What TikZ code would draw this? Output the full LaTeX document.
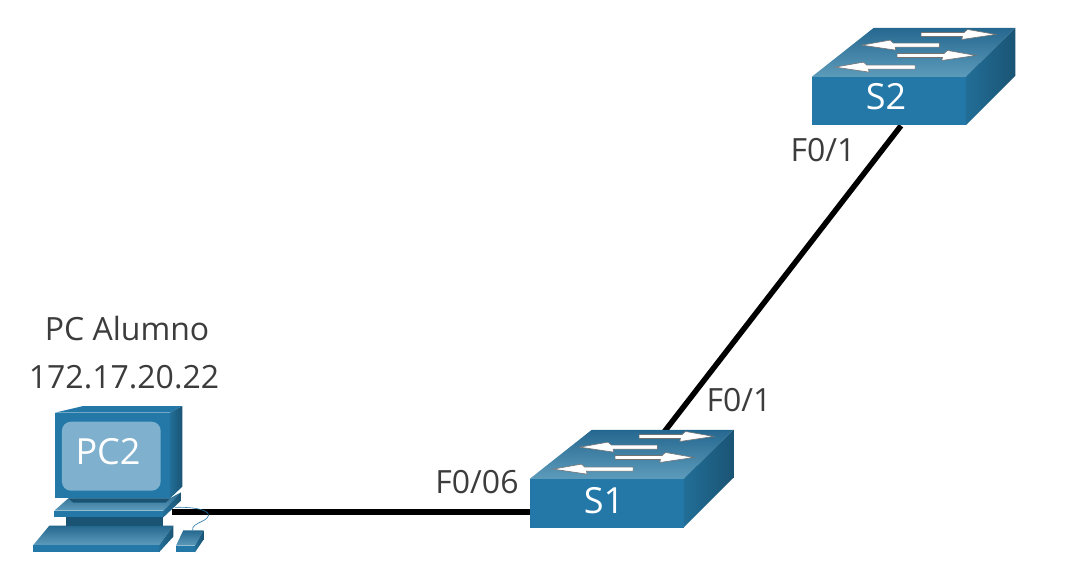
\documentclass[tikz,border=0pt]{standalone}
\usepackage{fontspec}
\setmainfont{Open Sans}
\usetikzlibrary{backgrounds}
\definecolor{ciscoblue}{HTML}{2378A8}
\definecolor{ciscotop}{HTML}{25688F}
\definecolor{ciscopale}{HTML}{5D9BBB}
\definecolor{ciscoside}{HTML}{226E97}
\definecolor{ciscodark}{HTML}{1A5474}
\definecolor{screenblue}{HTML}{7FB0CD}
\definecolor{labelgrey}{HTML}{3C3C3C}
\begin{document}
\begin{tikzpicture}
        [x=1pt,y=-1pt,
        switchbox/.style={fill=ciscoblue,minimum width=154pt,minimum height=48.5pt,inner sep=0pt},
        screenbox/.style={fill=screenblue,rounded corners=9pt,minimum width=98.7pt,minimum height=69pt,inner sep=0pt},
        devname/.style={text=white,inner sep=0pt,font=\fontsize{36}{36}\selectfont},
        portlabel/.style={text=labelgrey,inner sep=0pt,font=\fontsize{32}{32}\selectfont},
        link/.style={line width=5.5pt,black},
        topface/.style={top color=ciscotop,bottom color=ciscopale},
        sideface/.style={left color=ciscoside,right color=ciscodark},
        frontface/.style={fill=ciscoblue},
        darkface/.style={fill=ciscodark},
        flowarrow/.style={fill=white,draw=black!55,line width=0.6pt}]
        \useasboundingbox (0,0) rectangle (1079,572);
        \node (s1) at (607,503.25) [switchbox] {};
        \node (s2) at (889,101.25) [switchbox] {};
        \node (s1name) at (604,501) [devname] {S1};
        \node (s2name) at (886,97) [devname] {S2};
        \coordinate (pcport) at (172,512);
        \begin{pgfonlayer}{background}
            \draw[link] (pcport) -- (pcport -| s1.west);
            \draw[link] ([xshift=2pt]s1.center) -- ([xshift=12pt]s2.south);
        \end{pgfonlayer}
        \foreach \sw in {s1,s2} {
            \begin{scope}[shift={(\sw.north west)}]
                \path[topface] (0,0) -- (62,-49) -- (203.5,-49) -- (154,0) -- cycle;
                \path[sideface] (154,0) -- (203.5,-49) -- (203.5,-1) -- (154,48.5) -- cycle;
            \end{scope}
            \begin{scope}[shift={(\sw.north west)},x=0.3333pt,y=-0.3333pt]
                \foreach \tipx/\tailx/\ay/\dir in {552/328/-127/1,150/383/-95/-1,492/256/-64/1,70/310/-29/-1}
                    \draw[flowarrow] (\tailx,\ay-6) -- ({\tipx-\dir*95},\ay-6) -- ({\tipx-\dir*85},\ay-15) -- (\tipx,\ay) -- ({\tipx-\dir*102},\ay+15) -- ({\tipx-\dir*100},\ay+6) -- (\tailx,\ay+6) -- cycle;
            \end{scope}
        }
        \begin{scope}[shift={(0,390)},x=0.3333pt,y=-0.3333pt]
            \path[topface] (100,465) -- (148,407) -- (520,407) -- (478,465) -- cycle;
            \path[frontface] (100,465) rectangle (478,486);
            \path[sideface] (478,465) -- (520,407) -- (520,440) -- (478,486) -- cycle;
            \path[darkface] (197,382) rectangle (490,407);
            \path[topface] (163,362) -- (205,325) -- (510,325) -- (543,307) -- (490,362) -- cycle;
            \path[frontface] (163,362) rectangle (490,382);
            \path[sideface] (490,362) -- (543,307) -- (543,332) -- (490,382) -- cycle;
            \path[darkface] (205,325) -- (510,325) -- (497,338) -- (220,338) -- cycle;
            \path[frontface] (165,68) -- (250,48) -- (547,48) -- (510,68) -- cycle;
            \path[frontface] (165,68) rectangle (510,325);
            \path[sideface] (510,68) -- (547,48) -- (547,290) -- (510,325) -- cycle;
            \path[topface] (528,467) -- (550,421) -- (610,421) -- (585,467) -- cycle;
            \path[frontface] (528,467) rectangle (585,487);
            \path[sideface] (585,467) -- (610,421) -- (610,450) -- (585,487) -- cycle;
            \draw[ciscoblue,line width=0.6pt] (525,352) .. controls (610,350) and (650,370) .. (610,392) .. controls (590,402) and (575,408) .. (578,421);
        \end{scope}
        \node (pcscreen) at (111.3,456.2) [screenbox] {};
        \node (pc2) at (108,452) [devname] {PC2};
        \node (pcname) at (127,328) [portlabel] {PC Alumno};
        \node (pcaddr) at (124,377) [portlabel] {172.17.20.22};
        \node (s2port) at (823,150) [portlabel] {F0/1};
        \node (s1up) at (739,400) [portlabel] {F0/1};
        \node (s1left) at (477,482) [portlabel] {F0/06};
     \end{tikzpicture}
\end{document}
